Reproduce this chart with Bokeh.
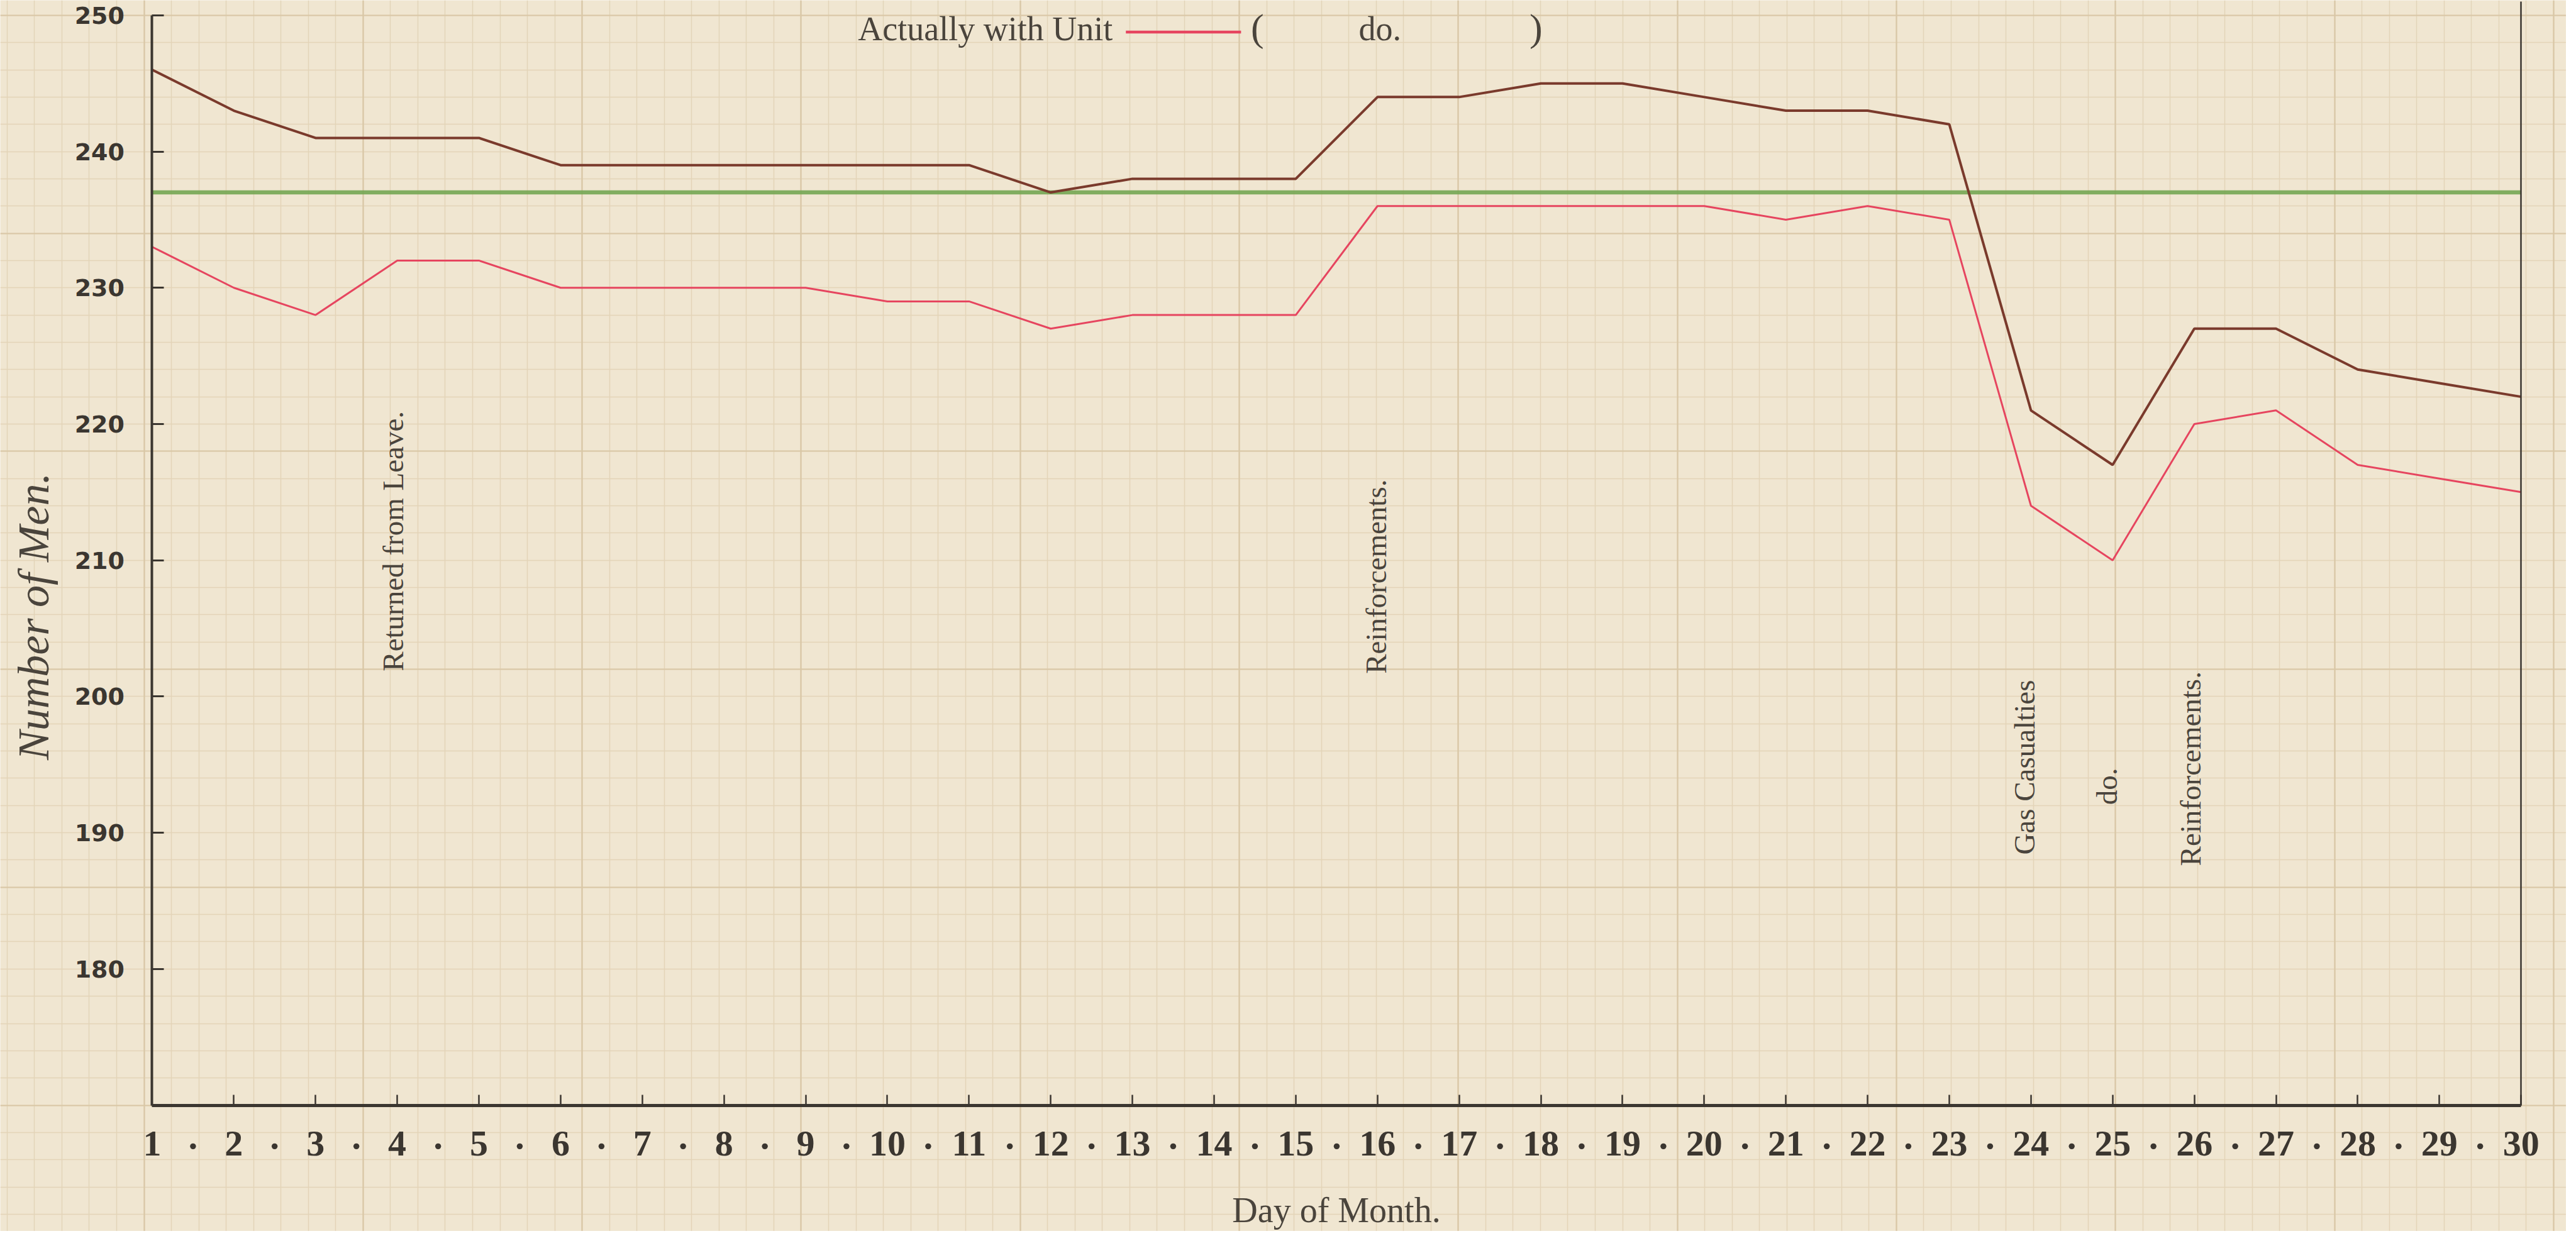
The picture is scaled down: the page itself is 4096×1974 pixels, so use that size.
import numpy as np
from bokeh.plotting import figure
from bokeh.models import LinearAxis, FixedTicker, Grid, Range1d, ColumnDataSource, CustomJSTickFormatter
from bokeh.core.properties import value
from bokeh.embed import file_html
from bokeh.resources import INLINE

# ---------------- data ----------------
days = list(range(1, 31))
day_labels = [str(d) for d in days]
strength = [246, 243, 241, 241, 241, 239, 239, 239, 239, 239, 239, 237, 238, 238, 238,
            244, 244, 245, 245, 244, 243, 243, 242, 221, 217, 227, 227, 224, 223, 222]
with_unit = [233, 230, 228, 232, 232, 230, 230, 230, 230, 229, 229, 227, 228, 228, 228,
             236, 236, 236, 236, 236, 235, 236, 235, 214, 210, 220, 221, 217, 216, 215]
establishment = [237] * 30
y_ticks = [180, 190, 200, 210, 220, 230, 240, 250]
y_tick_labels = [str(v) for v in y_ticks]

ann_text = ["Returned from Leave.", "Reinforcements.", "Gas Casualties", "do.", "Reinforcements."]
ann_day = [3.95, 15.98, 23.92, 24.93, 25.95]
ann_y = [211.4, 208.8, 194.8, 193.4, 194.7]
ann_size = ["47px", "47px", "47px", "47px", "47px"]

legend_label = "Actually with Unit"
legend_ditto = ["(", "do.", ")"]

# ---------------- style ----------------
PAPER = "#f0e6d1"
FINE = "#e3d4b8"
MAJOR = "#d9c7a6"
INK = "#3b3630"
TEXT = "#4a443c"
BROWN = "#7a3a2c"
RED = "#e6455f"
GREEN = "#74a653"

W, H = 4080, 1958
p = figure(width=W, height=H, output_backend="svg", toolbar_location=None,
           x_range=Range1d(-0.859, 30.553), y_range=Range1d(160.75, 251.10),
           x_axis_type=None, y_axis_type=None, min_border=0)
p.background_fill_color = PAPER
p.border_fill_color = PAPER
p.outline_line_color = None

# graph-paper ruling
fine_x = 3.582 + 0.3352 * np.arange(-14, 86)
major_x = 3.582 + 2.6816 * np.arange(-2, 11)
fine_y = np.arange(160, 253, 2)
major_y = np.arange(170, 253, 16)
for dim, ticks, col, lw in [(0, fine_x, FINE, 1.5), (1, fine_y, FINE, 1.5),
                            (0, major_x, MAJOR, 2.2), (1, major_y, MAJOR, 2.2)]:
    p.add_layout(Grid(dimension=dim, ticker=FixedTicker(ticks=[float(t) for t in ticks]),
                      grid_line_color=col, grid_line_width=lw))

# data lines
src = ColumnDataSource(dict(day=days, strength=strength, unit=with_unit, est=establishment))
p.line("day", "est", source=src, line_color=GREEN, line_width=6.5, line_alpha=0.9)
p.line("day", "strength", source=src, line_color=BROWN, line_width=4)
p.line("day", "unit", source=src, line_color=RED, line_width=3)

# axes
yax = LinearAxis(fixed_location=1, bounds=(170, 250), ticker=FixedTicker(ticks=y_ticks),
                 major_label_overrides=dict(zip(y_ticks, y_tick_labels)))
yax.axis_line_color = INK
yax.axis_line_width = 4
yax.major_tick_in = 19
yax.major_tick_out = 0
yax.major_tick_line_width = 3
yax.major_tick_line_color = INK
yax.minor_tick_line_color = None
yax.major_label_standoff = 44
yax.major_label_text_font = "DejaVu Sans"
yax.major_label_text_font_style = "bold"
yax.major_label_text_font_size = "38px"
yax.major_label_text_color = INK
p.add_layout(yax, "left")

ylab = LinearAxis(fixed_location=1, bounds=(170, 241.8), ticker=FixedTicker(ticks=[]),
                  axis_label="Number of Men.")
ylab.axis_line_color = None
ylab.major_tick_line_color = None
ylab.minor_tick_line_color = None
ylab.axis_label_standoff = 150
ylab.axis_label_text_font = "Liberation Serif"
ylab.axis_label_text_font_style = "italic"
ylab.axis_label_text_font_size = "70px"
ylab.axis_label_text_color = TEXT
p.add_layout(ylab, "left")

rax = LinearAxis(fixed_location=30, bounds=(170, 251.0), ticker=FixedTicker(ticks=[]))
rax.axis_line_color = INK
rax.axis_line_width = 2.5
rax.major_tick_line_color = None
rax.minor_tick_line_color = None
p.add_layout(rax, "right")

xax = LinearAxis(fixed_location=170, bounds=(1, 30), ticker=FixedTicker(ticks=days),
                 major_label_overrides=dict(zip(days, day_labels)), axis_label="Day of Month.")
xax.axis_line_color = INK
xax.axis_line_width = 5
xax.major_tick_in = 17
xax.major_tick_out = 0
xax.major_tick_line_width = 2.5
xax.major_tick_line_color = INK
xax.minor_tick_line_color = None
xax.major_label_standoff = 42
xax.major_label_text_font = "Liberation Serif"
xax.major_label_text_font_style = "bold"
xax.major_label_text_font_size = "58px"
xax.major_label_text_color = INK
xax.axis_label_standoff = 52
xax.axis_label_text_font = "Liberation Serif"
xax.axis_label_text_font_style = "normal"
xax.axis_label_text_font_size = "56px"
xax.axis_label_text_color = TEXT
p.add_layout(xax, "below")

dots = LinearAxis(fixed_location=170, ticker=FixedTicker(ticks=[d + 0.5 for d in days[:-1]]),
                  formatter=CustomJSTickFormatter(code="return '\u00b7'"))
dots.axis_line_color = None
dots.major_tick_line_color = None
dots.minor_tick_line_color = None
dots.major_label_standoff = 26
dots.major_label_text_font = "Liberation Serif"
dots.major_label_text_font_style = "bold"
dots.major_label_text_font_size = "58px"
dots.major_label_text_color = INK
p.add_layout(dots, "below")

# annotations
asrc = ColumnDataSource(dict(x=ann_day, y=ann_y, t=ann_text, s=ann_size))
p.text(x="x", y="y", text="t", source=asrc, angle=np.pi / 2, text_align="center",
       text_baseline="middle", text_font=value("Liberation Serif"), text_font_size="s",
       text_color=TEXT)

# legend (drawn in the hand-ruled style of the original)
p.text(x=[11.2], y=[249.0], text=[legend_label], text_align="center", text_baseline="middle",
       text_font=value("Liberation Serif"), text_font_size="54px", text_color=TEXT)
p.line(x=[12.92, 14.33], y=[248.77, 248.77], line_color=RED, line_width=4.5)
p.text(x=[14.53, 16.03, 17.94], y=[249.1, 249.0, 249.1], text=legend_ditto, text_align="center",
       text_baseline="middle", text_font=value("Liberation Serif"),
       text_font_size=["62px", "54px", "62px"], text_color=TEXT)

open("out.html", "w").write(file_html(p, INLINE))
